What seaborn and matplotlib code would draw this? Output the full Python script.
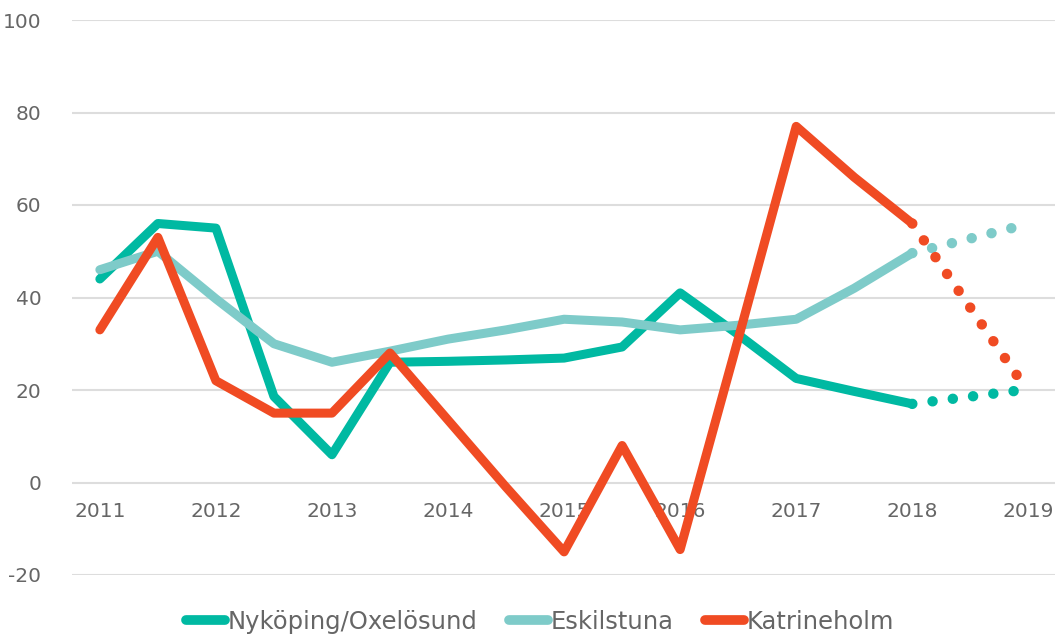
import matplotlib
matplotlib.use('Agg')
import matplotlib.pyplot as plt
import pandas as pd
import seaborn as sns


years = [2011, 2011.5, 2012, 2012.5, 2013, 2013.5, 2014, 2014.5,
         2015, 2015.5, 2016, 2016.5, 2017, 2017.5, 2018]
nykoping = [44, 56, 55, 18.6, 6, 26, 26.2, 26.5, 26.9, 29.3, 41, 32, 22.5, 19.7, 17]
eskilstuna = [46, 50, 39.7, 30, 26, 28.4, 31, 33, 35.3, 34.7, 33, 34, 35.3, 42, 49.6]
katrineholm = [33, 53, 22, 15, 15, 28, 13.5, -1, -15, 8, -14.5, 31, 77, 66, 56]

fc_years = [2018, 2018.92]
nykoping_fc = [17, 19.9]
eskilstuna_fc = [49.6, 55.4]
katrineholm_fc = [56, 22.5]

names = ['Nyköping/Oxelösund', 'Eskilstuna', 'Katrineholm']
colors = ['#00B9A2', '#7ECBC9', '#F04B23']
tick_years = [2011, 2012, 2013, 2014, 2015, 2016, 2017, 2018, 2019]

df = pd.DataFrame({
    'year': years * 3,
    'value': nykoping + eskilstuna + katrineholm,
    'kommun': [names[0]] * len(years) + [names[1]] * len(years) + [names[2]] * len(years),
})

sns.set_style('white')
plt.rcParams['font.family'] = ['DejaVu Sans']
plt.rcParams['axes.unicode_minus'] = False
grey = '#666666'

fig = plt.figure(figsize=(10.55, 6.37), dpi=100)
ax = fig.add_axes([72 / 1055, 1 - 575 / 637, 1 - 72 / 1055, (575 - 20) / 637])

sns.lineplot(data=df, x='year', y='value', hue='kommun', palette=colors,
             linewidth=6.5, solid_capstyle='round', solid_joinstyle='round',
             ax=ax, legend=False)

# prognos, prickad
for vals, c in zip([nykoping_fc, eskilstuna_fc, katrineholm_fc], colors):
    ax.plot(fc_years, vals, color=c, linewidth=7.5, linestyle=(0, (0.01, 1.95)),
            dash_capstyle='round')

ax.set_xlim(2010.76, 2019.23)
ax.set_ylim(-20, 100)
ax.set_yticks(range(-20, 101, 20))
ax.set_xticks(tick_years)
ax.grid(axis='y', color='#DDDDDD', linewidth=1.5)
ax.set_axisbelow(True)
for s in ['top', 'right', 'left']:
    ax.spines[s].set_visible(False)
ax.spines['bottom'].set_position(('data', 0))
ax.spines['bottom'].set_visible(False)
ax.tick_params(axis='x', length=0, pad=14, labelsize=14.5, labelcolor=grey)
ax.tick_params(axis='y', length=0, pad=22, labelsize=14.5, labelcolor=grey)
ax.set_xlabel('')
ax.set_ylabel('')

handles = [plt.Line2D([], [], color=c, linewidth=7, solid_capstyle='round') for c in colors]
fig.legend(handles, names, loc='center', bbox_to_anchor=(0.512, 1 - 622 / 637),
           ncol=3, frameon=False, fontsize=17.5, labelcolor=grey,
           handlelength=1.6, handletextpad=0.1, columnspacing=1.3)

fig.savefig('out.png', dpi=100)
